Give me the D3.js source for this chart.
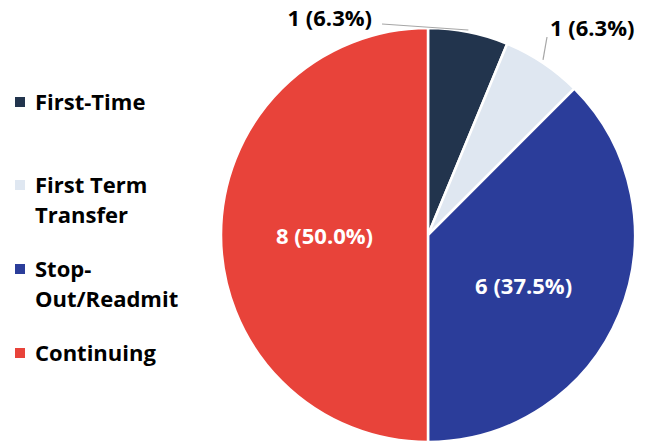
<!DOCTYPE html>
<html><head><meta charset="utf-8">
<script src="https://cdn.jsdelivr.net/npm/d3@7"></script>
<style>body{margin:0;background:#fff}svg{display:block}text{font-family:"Open Sans",Lato,sans-serif;font-weight:700}</style>
</head><body><svg width="659" height="445"></svg>
<script>
const categories = ["First-Time","First Term Transfer","Stop-Out/Readmit","Continuing"];
const legendLines = [["First-Time"],["First Term","Transfer"],["Stop-","Out/Readmit"],["Continuing"]];
const values = [1,1,6,8];
const labels = ["1 (6.3%)","1 (6.3%)","6 (37.5%)","8 (50.0%)"];
const colors = ["#22344d","#dfe7f1","#2b3d9a","#e8433a"];

const FS = 22;
const svg = d3.select("svg");
const cx = 428, cy = 235, R = 207;
const pie = d3.pie().sort(null).value(d=>d)(values);
const arc = d3.arc().innerRadius(0).outerRadius(R);
const g = svg.append("g").attr("transform",`translate(${cx},${cy})`);
g.selectAll("path").data(pie).join("path")
  .attr("d",arc).attr("fill",(d,i)=>colors[i])
  .attr("stroke","#fff").attr("stroke-width",2.5);

// inside labels
const inArc = d3.arc().innerRadius(R*0.5).outerRadius(R*0.5);
[2,3].forEach(i=>{
  const c = inArc.centroid(pie[i]);
  g.append("text").attr("x",c[0]).attr("y",c[1]+(i===2?10:0)).attr("text-anchor","middle")
    .attr("dominant-baseline","central").attr("fill","#fff").attr("font-size",FS).text(labels[i]);
});
// outside labels with leader lines
const outArc = d3.arc().innerRadius(R).outerRadius(R);
const p0 = outArc.centroid(pie[0]);
g.append("polyline").attr("points",[[-46,-211],[p0[0],-205]].map(p=>p.join(",")).join(" "))
  .attr("fill","none").attr("stroke","#a6a6a6").attr("stroke-width",1.2);
g.append("text").attr("x",-56).attr("y",-209).attr("text-anchor","end").attr("fill","#000").attr("font-size",FS).text(labels[0]);
const p1 = outArc.centroid(pie[1]);
g.append("polyline").attr("points",[[119,-198],[p1[0],p1[1]-3]].map(p=>p.join(",")).join(" "))
  .attr("fill","none").attr("stroke","#a6a6a6").attr("stroke-width",1.2);
g.append("text").attr("x",122).attr("y",-199).attr("fill","#000").attr("font-size",FS).text(labels[1]);

// legend
const legY = [102,185,269,353];
const lg = svg.append("g");
categories.forEach((c,i)=>{
  lg.append("rect").attr("x",15).attr("y",legY[i]-5).attr("width",10).attr("height",10).attr("fill",colors[i]);
  const t = lg.append("text").attr("x",35).attr("y",legY[i]+8).attr("fill","#000").attr("font-size",FS);
  legendLines[i].forEach((l,j)=>t.append("tspan").attr("x",35).attr("dy",j?30:0).text(l));
});
</script></body></html>
